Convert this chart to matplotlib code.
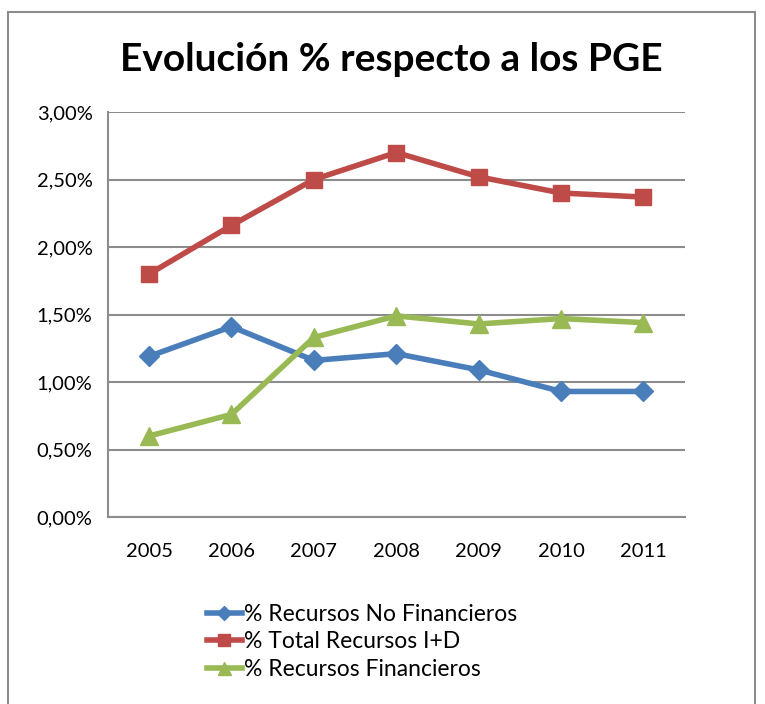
import matplotlib
matplotlib.use("Agg")
from matplotlib import pyplot as plt
from matplotlib.patches import Rectangle
from matplotlib.ticker import FuncFormatter

# datos
years = ["2005", "2006", "2007", "2008", "2009", "2010", "2011"]
no_financieros = [1.19, 1.41, 1.16, 1.21, 1.09, 0.93, 0.93]
total_id = [1.80, 2.16, 2.50, 2.70, 2.52, 2.40, 2.37]
financieros = [0.60, 0.76, 1.33, 1.49, 1.43, 1.47, 1.44]

plt.rcParams['font.family'] = ['Lato', 'DejaVu Sans']

fig = plt.figure(figsize=(7.65, 7.04), dpi=100)
ax = fig.add_axes([0.141, 0.2656, 0.754, 0.5753])

x = range(len(years))
ax.plot(x, no_financieros, color='#4a7ebb', lw=4, marker='D', ms=10,
        label='% Recursos No Financieros')
ax.plot(x, total_id, color='#be4b48', lw=4, marker='s', ms=12,
        label='% Total Recursos I+D')
ax.plot(x, financieros, color='#98b954', lw=4, marker='^', ms=13,
        label='% Recursos Financieros')

ax.set_xlim(-0.5, 6.5)
ax.set_ylim(0, 3.0)
ax.set_yticks([0, 0.5, 1.0, 1.5, 2.0, 2.5, 3.0])
ax.yaxis.set_major_formatter(FuncFormatter(lambda v, p: f"{v:.2f}%".replace('.', ',')))
ax.set_xticks(list(x))
ax.set_xticklabels(years)
ax.tick_params(axis='both', labelsize=14.5, length=0, colors='black')
ax.tick_params(axis='y', pad=11)
ax.tick_params(axis='x', pad=19)
ax.grid(axis='y', color='#8c8c8c', lw=1.5)
ax.set_axisbelow(True)
for s in ['top', 'right']:
    ax.spines[s].set_visible(False)
ax.spines['left'].set_color('#8c8c8c')
ax.spines['left'].set_linewidth(1.5)
ax.spines['bottom'].set_color('#8c8c8c')
ax.spines['bottom'].set_linewidth(1.5)

fig.text(0.512, 0.915, 'Evolución % respecto a los PGE', ha='center', va='center',
         fontsize=28, fontweight='bold')

leg = ax.legend(loc='upper left', bbox_to_anchor=(0.27, 0.142), bbox_transform=fig.transFigure,
                frameon=False, fontsize=16.5, handlelength=1.55, labelspacing=0.28,
                handletextpad=0.1, borderaxespad=0, borderpad=0, markerscale=0.72)

fig.patches.append(Rectangle((0.011, -0.01), 0.976, 0.993, transform=fig.transFigure,
                             fill=False, edgecolor='#8c8c8c', lw=1.5))

fig.savefig('out.png', dpi=100)
